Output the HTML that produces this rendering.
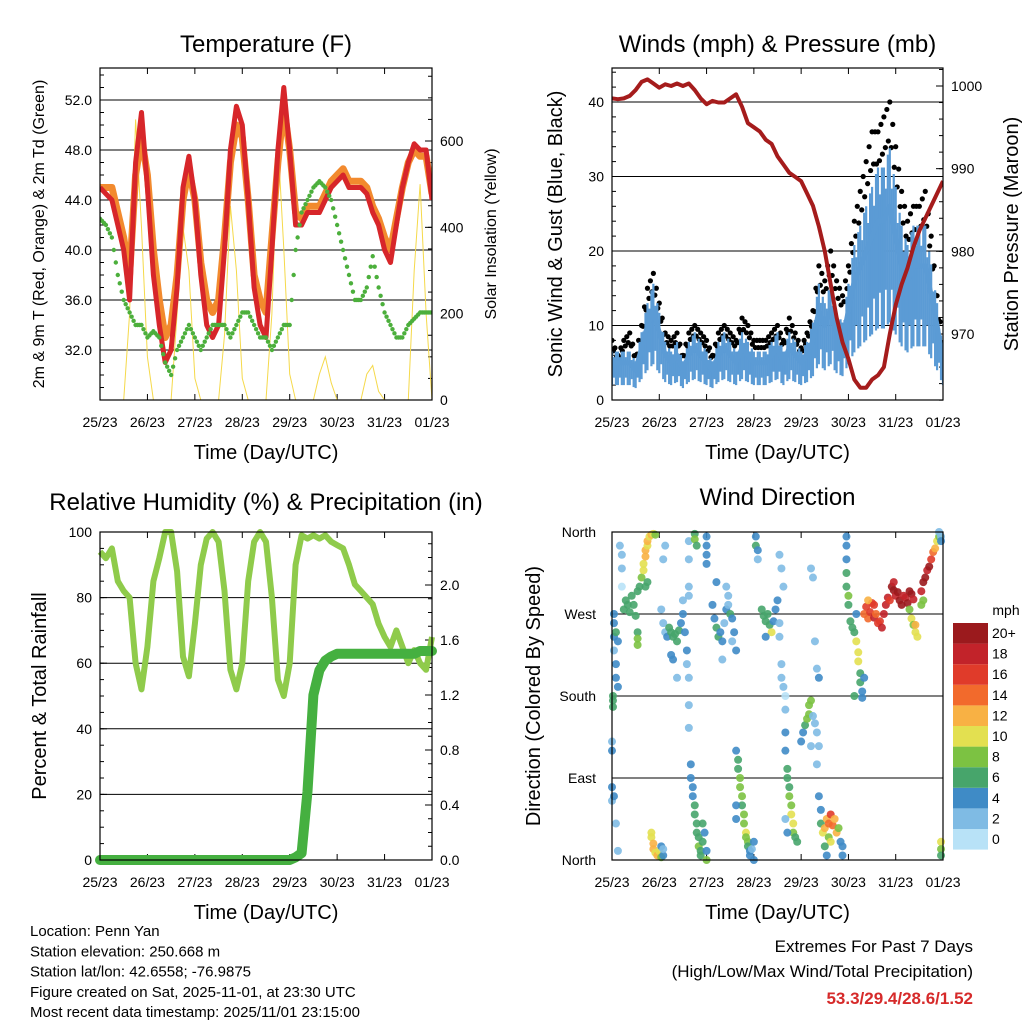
<!DOCTYPE html>
<html><head><meta charset="utf-8">
<style>
html,body{margin:0;padding:0;background:#fff;}
svg{display:block;font-family:"Liberation Sans",Arial,sans-serif;}
</style></head>
<body>
<svg id="chart" width="1024" height="1024" viewBox="0 0 1024 1024" xmlns="http://www.w3.org/2000/svg"></svg>
<script>
// ---------- DATA (3-hourly samples from 25/23 UTC) ----------
const dayLabels = ["25/23","26/23","27/23","28/23","29/23","30/23","31/23","01/23"];
const tempRed = [45,44.5,44,42,40,36,47,51,45,38,34,31,32,37,45,47.5,44,38,34,33,34,40,48,51.5,50,44,37,34,33,40,48,53,48,42,42,43,43,43,44,45,45.5,46,45,45,45,44.5,43,42,40,39,42,45,47,48.5,48,48,44];
const tempOrange = [45,45,45,43,41,38,46,49,46,40,36,33,34,38,44,46.5,44,39,36,35,36,41,47,50,49,44,38,36,35,41,47,51.5,48,43,42.5,43.5,43.5,43.5,44.5,45.5,46,46.5,45.5,45.5,45.5,45,43.5,42.5,41,40,42.5,45,47,48,47.5,47.5,44.5];
const dewGreen = [42.5,42,41,38,36,35,34,34,33,33.5,33,31,30,32,33,34,33,32,33,34,34,34,33,34,35,35,34,33,33,32,33,34,34,40,43,44,45,45.5,45,44,42,40,38,36,36,37,39.5,37,35,34,33,33,34,34.5,35,35,35];
const solar = [0,0,0,0,0,200,650,400,100,0,0,0,0,200,400,300,50,0,0,0,0,150,450,300,50,0,0,0,0,200,600,350,60,0,0,0,0,60,100,40,0,0,0,0,0,60,80,20,0,0,0,0,0,300,500,200,0];
const windSpeed = [5,5,5,5,4,7,10,12,9,6,5,6,4,6,7,6,5,4,6,7,6,5,7,6,5,5,5,6,7,5,7,6,5,6,8,12,10,12,9,8,12,16,18,20,22,24,24,26,22,18,16,18,18,18,14,10,5];
const windGust = [8,6,8,9,6,10,15,17,13,9,8,9,6,9,10,9,8,6,9,10,9,8,11,10,8,8,8,9,10,8,11,9,7,9,12,18,16,20,16,14,18,24,28,32,36,36,38,40,34,28,24,26,26,28,22,14,7];
const pressure = [998.5,998.4,998.5,998.8,999.5,1000.5,1000.8,1000.3,999.8,1000.2,1000,1000.3,1000,1000.3,999.5,998.5,997.8,998.2,998,998,998.5,999,997.5,995.5,995,994.5,993.5,993,991.5,990.5,989.5,989,988.5,987,985.5,983,980,976,972,969,967,964.5,963.5,963.5,964.5,965,966,970,973.5,976,978,980.5,982.5,984,985.5,987,988.5];
const relHum = [94,92,95,85,82,80,60,52,65,85,92,100,100,88,62,56,72,90,98,100,97,82,58,52,60,85,97,100,97,80,55,50,60,90,99,98,99,98,99,97,96,95,90,84,82,80,78,72,68,65,70,65,60,64,60,58,68];
const precip = [0,0,0,0,0,0,0,0,0,0,0,0,0,0,0,0,0,0,0,0,0,0,0,0,0,0,0,0,0,0,0,0,0,0.02,0.05,0.5,1.2,1.38,1.45,1.48,1.5,1.5,1.5,1.5,1.5,1.5,1.5,1.5,1.5,1.5,1.5,1.5,1.5,1.5,1.52,1.52,1.52];
// wind direction points: [hour, direction deg, speed mph]
const dirPoints = [
[1,260,4],[1,245,4],[1,230,3],[2,215,4],[2,200,5],[3,190,4],[2,250,6],[3,240,5],[1,270,4],[0.5,175,7],[0.5,168,6],[0.5,180,6],[0,130,3],[0,120,4],[0,80,4],[0,65,3],[1,70,4],[2,40,2],[3,10,2],
[6,275,7],[7,285,6],[8,280,7],[9,272,6],[10,290,7],[11,280,6],[12,268,7],[13,295,6],[14,300,7],[13,250,7],[13,243,8],[13,236,9],
[15,310,9],[16,318,10],[16,325,11],[17,333,12],[17,340,13],[18,345,10],[18,350,12],[19,355,11],[20,357,12],[21,358,10],[22,357,9],[17,300,7],[18,305,7],
[5,335,2],[5,320,2],[5,300,1],[4,345,3],
[20,30,11],[20,25,10],[21,18,13],[21,12,12],[22,8,11],[23,5,12],[24,10,10],[25,3,9],[25,15,5],[26,5,4],[26,12,3],
[25,275,3],[26,260,2],[27,250,3],[28,245,4],[29,255,6],[30,250,6],[31,245,7],[32,248,7],[33,240,7],[34,252,6],[35,260,4],[36,270,4],[37,250,4],[38,230,4],[38,215,3],[39,290,3],[36,285,2],[30,225,5],[31,220,5],[26,330,2],[27,345,2],[33,200,2],
[39,350,2],[39,330,2],[39,300,2],[39,200,2],[39,170,2],[39,145,2],
[40,105,4],[40,90,4],[41,80,5],[41,70,4],[42,60,6],[42,50,6],[43,40,7],[43,30,6],[44,25,7],[44,15,8],[45,10,7],[45,5,6],[46,20,7],[46,40,6],[47,30,5],[48,10,4],[48,0,8],
[42,358,6],[42,352,8],[43,345,7],[48,355,4],[48,345,4],[48,335,4],[48,325,4],
[51,280,4],[52,265,5],[53,255,6],[54,245,6],[55,250,4],[56,240,4],[57,260,3],[58,275,4],[59,280,3],[60,270,7],[61,265,4],[62,250,4],[63,230,4],[58,300,2],[59,290,2],[61,240,2],[56,220,3],[53,305,4],
[63,120,5],[64,110,6],[64,100,7],[65,90,8],[65,80,8],[66,70,8],[66,60,7],[67,50,8],[67,40,9],[68,30,10],[68,25,8],[69,20,9],[69,15,7],[70,10,5],[70,5,4],[71,12,3],[63,60,4],[63,45,5],[72,20,4],[72,0,5],
[73,355,4],[73,345,6],[74,340,4],[74,330,2],
[76,275,6],[77,268,6],[78,262,6],[79,270,7],[80,258,7],[81,250,10],[82,262,5],[83,275,4],[84,285,4],[85,260,3],[85,245,3],[78,245,4],
[85,335,2],[86,320,2],[87,300,2],[86,215,2],[86,200,2],[87,190,2],[88,180,1],[88,165,2],
[88,140,4],[88,120,4],[89,100,6],[89,90,7],[90,80,7],[90,70,8],[91,60,8],[91,50,10],[92,40,10],[92,30,9],[93,25,7],[94,20,6],[89,30,4],[88,45,2],
[96,130,4],[97,140,5],[98,148,7],[99,155,8],[100,160,9],[100,170,9],[101,175,8],[102,158,3],[103,150,2],[104,140,2],[105,125,2],[104,105,2],[101,125,3],
[101,320,2],[102,310,2],[103,240,2],[104,210,2],[105,200,4],
[105,70,4],[106,55,4],[106,40,6],[107,30,10],[108,35,12],[109,45,13],[110,40,14],[111,50,16],[112,38,15],[113,45,12],[114,30,13],[110,25,8],[111,20,10],[115,35,8],[116,20,4],[117,15,4],[117,5,4],[109,5,4],[108,15,6],
[119,355,4],[119,345,4],[119,330,4],[119,315,6],[119,300,6],[120,290,8],[120,280,6],
[121,262,6],[122,255,6],[123,250,6],[124,240,10],[125,228,10],[125,218,10],[126,205,6],[126,195,6],[127,185,4],[127,178,4],[128,200,4],[123,180,6],[124,270,4],
[128,270,15],[129,278,17],[130,265,14],[131,272,16],[132,282,16],[133,266,18],[134,270,14],[135,260,17],[136,262,16],[137,255,18],[138,270,18],[139,280,18],[140,288,19],[141,285,17],[130,285,12],[133,280,16],
[142,300,20],[143,296,20],[144,290,18],[145,294,20],[146,285,21],[147,280,20],[148,290,19],[149,288,18],[150,282,20],[151,295,20],[152,292,20],[153,286,18],[143,305,18],
[152,265,10],[153,258,9],[154,250,11],[155,245,10],[154,258,12],[151,275,8],
[157,295,18],[158,305,20],[159,310,20],[160,318,18],[161,322,20],[162,330,16],[163,338,14],[164,342,12],[165,350,10],[166,355,8],[166,360,3],[158,285,8],[157,280,8],
[167,355,3],[167,350,4],[167,20,10],[167,12,8],[167,5,6]];
const speedLabels = ["0","2","4","6","8","10","12","14","16","18","20+"];
const speedColors = ["#b8e2f7","#7fbbe4","#3f8bc6","#47a56b","#7cc242","#e3e050","#f8b144","#f26a2c","#e03b2a","#c2232a","#9b1a1d"];

// ---------- helpers ----------
const NS="http://www.w3.org/2000/svg";
const svg=document.getElementById('chart');
function mk(tag,attrs,parent){const e=document.createElementNS(NS,tag);for(const k in attrs)e.setAttribute(k,attrs[k]);(parent||svg).appendChild(e);return e;}
function txt(s,x,y,size,anchor,parent,extra){const t=mk('text',Object.assign({x:x,y:y,'font-size':size,'text-anchor':anchor||'middle',fill:'#000'},extra||{}),parent);t.textContent=s;return t;}
function lin(d0,d1,p0,p1){return v=>p0+(v-d0)*(p1-p0)/(d1-d0);}

function panelFrame(g,L,R,T,B,title,ttlY,xlabY){
  txt(title,(L+R)/2,ttlY,24,'middle',g);
  const xs=lin(0,7,L,R);
  for(let d=0;d<=7;d++){const x=xs(d);
    mk('line',{x1:x,y1:B,x2:x,y2:B-6,stroke:'#000','stroke-width':1},g);
    mk('line',{x1:x,y1:T,x2:x,y2:T+6,stroke:'#000','stroke-width':1},g);
    const tl=txt(dayLabels[d],x,B+27,14,'middle',g);
    
    
  }
  const xl=txt('Time (Day/UTC)',(L+R)/2,xlabY,20,'middle',g);
  
  
  return xs;
}
function border(g,L,R,T,B){mk('rect',{x:L,y:T,width:R-L,height:B-T,fill:'none',stroke:'#000','stroke-width':1.2},g);}
function yTicks(g,scale,vals,side,x,fmt,major,grid,L,R){
  vals.forEach(v=>{const y=scale(v);
    const len=major?7:4; const dir=side==='left'?1:-1;
    mk('line',{x1:x,y1:y,x2:x+dir*len,y2:y,stroke:'#000','stroke-width':1},g);
    if(major){
      if(grid) mk('line',{x1:L,y1:y,x2:R,y2:y,stroke:'#000','stroke-width':1},g);
      const t=txt(fmt(v),side==='left'?x-8:x+8,y+5,14,side==='left'?'end':'start',g);
      
      
    }
  });
}
function vlabel(g,s,x,y,size){const t=txt(s,x,y,size,'middle',g,{transform:`rotate(-90 ${x} ${y})`});return t;}
function pathFrom(arr,xs,ys){return arr.map((v,i)=>(i?'L':'M')+xs(i).toFixed(1)+','+ys(v).toFixed(1)).join('');}

// ---------- Panel 1: Temperature ----------
(function(){
  const g=mk('g',{});
  
  
  const L=100,R=432,T=68,B=400;
  panelFrame(g,L,R,T,B,'Temperature (F)',52,459);
  const xi=lin(0,56,L,R);
  const yT=lin(28,54.56,B,T);
  const yS=lin(0,600,B,141);
  const minor=[];for(let v=29;v<=54;v++)minor.push(v);
  yTicks(g,yT,minor,'left',L,v=>v,false,false,L,R);
  yTicks(g,yT,[32,36,40,44,48,52],'left',L,v=>v.toFixed(1),true,true,L,R);
  const sm=[];for(let v=50;v<=750;v+=50)sm.push(v);
  yTicks(g,yS,sm,'right',R,v=>v,false,false,L,R);
  yTicks(g,yS,[0,200,400,600],'right',R,v=>v,true,false,L,R);
  const cl=mk('clipPath',{id:'c1'},g);mk('rect',{x:L,y:T,width:R-L,height:B-T},cl);
  const d=mk('g',{'clip-path':'url(#c1)'},g);
  const s=mk('path',{d:pathFrom(solar,xi,yS),fill:'none',stroke:'#f5d94a','stroke-width':1},d);
  
  
  const o=mk('path',{d:pathFrom(tempOrange,xi,yT),fill:'none',stroke:'#f28a2e','stroke-width':7,'stroke-linejoin':'round'},d);
  
  
  const r=mk('path',{d:pathFrom(tempRed,xi,yT),fill:'none',stroke:'#d7262a','stroke-width':5,'stroke-linejoin':'round'},d);
  
  
  dewGreen.forEach((v,i)=>{
    const c=mk('circle',{cx:xi(i),cy:yT(v),r:2.2,fill:'#4caf3c'},d);
    
    
    if(i<56){for(let k=1;k<3;k++){const f=k/3;
      const c2=mk('circle',{cx:xi(i)+(xi(i+1)-xi(i))*f,cy:yT(v)+(yT(dewGreen[i+1])-yT(v))*f,r:2.2,fill:'#4caf3c'},d);
      
      }}
  });
  border(g,L,R,T,B);
  vlabel(g,'2m & 9m T (Red, Orange) & 2m Td (Green)',44,234,16);
  vlabel(g,'Solar Insolation (Yellow)',496,234,16);
})();

// ---------- Panel 2: Winds ----------
(function(){
  const g=mk('g',{});
  
  
  const L=612,R=943,T=68,B=400;
  panelFrame(g,L,R,T,B,'Winds (mph) & Pressure (mb)',52,459);
  const xi=lin(0,56,L,R);
  const yW=lin(0,10,B,325.5);
  const yP=lin(970,1000,334,86);
  const wm=[];for(let v=2;v<=44;v+=2)wm.push(v);
  yTicks(g,yW,wm,'left',L,v=>v,false,false,L,R);
  yTicks(g,yW,[0,10,20,30,40],'left',L,v=>v,true,true,L,R);
  const pm=[];for(let v=962;v<=1002;v+=2)pm.push(v);
  yTicks(g,yP,pm,'right',R,v=>v,false,false,L,R);
  yTicks(g,yP,[970,980,990,1000],'right',R,v=>v,true,false,L,R);
  const cl=mk('clipPath',{id:'c2'},g);mk('rect',{x:L,y:T,width:R-L,height:B-T},cl);
  const d=mk('g',{'clip-path':'url(#c2)'},g);
  windGust.forEach((v,i)=>{
    const nxt=i<56?windGust[i+1]:v;
    for(let k=0;k<4;k++){const f=k/4;const gv=v+(nxt-v)*f;
      const c=mk('circle',{cx:xi(i+f),cy:yW(gv*(k%2?0.88:1)),r:2.6,fill:'#000'},d);
      
      }
  });
  windSpeed.forEach((v,i)=>{
    const nxt=i<56?windSpeed[i+1]:v;
    for(let k=0;k<3;k++){const f=k/3;const wv=v+(nxt-v)*f;
      const b=mk('line',{x1:xi(i+f),x2:xi(i+f),y1:yW(wv*(k===1?0.6:0.4)),y2:yW(wv*(k===1?1.15:1.3)),stroke:'#5b9bd5','stroke-width':2.2},d);
      
      }
  });
  const w=mk('path',{d:pathFrom(windSpeed,xi,yW),fill:'none',stroke:'#5b9bd5','stroke-width':5,'stroke-linejoin':'round'},d);
  
  
  const p=mk('path',{d:pathFrom(pressure,xi,yP),fill:'none',stroke:'#a51c1c','stroke-width':4,'stroke-linejoin':'round'},d);
  
  
  border(g,L,R,T,B);
  vlabel(g,'Sonic Wind & Gust (Blue, Black)',562,234,20);
  vlabel(g,'Station Pressure (Maroon)',1018,234,20);
})();

// ---------- Panel 3: RH & Precip ----------
(function(){
  const g=mk('g',{});
  
  
  const L=100,R=432,T=532,B=860;
  panelFrame(g,L,R,T,B,'Relative Humidity (%) & Precipitation (in)',510,919);
  const xi=lin(0,56,L,R);
  const yH=lin(0,100,B,T);
  const yR=lin(0,2.0,B,585);
  const hm=[];for(let v=5;v<=100;v+=5)hm.push(v);
  yTicks(g,yH,hm,'left',L,v=>v,false,false,L,R);
  yTicks(g,yH,[0,20,40,60,80,100],'left',L,v=>v,true,true,L,R);
  const rm=[];for(let v=0.1;v<2.35;v+=0.1)rm.push(+v.toFixed(1));
  yTicks(g,yR,rm,'right',R,v=>v,false,false,L,R);
  yTicks(g,yR,[0,0.4,0.8,1.2,1.6,2.0],'right',R,v=>v.toFixed(1),true,false,L,R);
  const h=mk('path',{d:pathFrom(relHum,xi,yH),fill:'none',stroke:'#8fcb4b','stroke-width':6,'stroke-linejoin':'round'},g);
  
  
  const p=mk('path',{d:pathFrom(precip,xi,yR),fill:'none',stroke:'#45b040','stroke-width':10,'stroke-linecap':'round','stroke-linejoin':'round'},g);
  
  
  border(g,L,R,T,B);
  vlabel(g,'Percent & Total Rainfall',46,696,20);
})();

// ---------- Panel 4: Wind Direction ----------
(function(){
  const g=mk('g',{});
  
  
  const L=612,R=943,T=532,B=860;
  panelFrame(g,L,R,T,B,'Wind Direction',505,919);
  const xh=lin(0,168,L,R);
  const yD=lin(0,360,B,T);
  const names=['North','East','South','West','North'];
  [0,90,180,270,360].forEach((v,i)=>{const y=yD(v);
    mk('line',{x1:L,y1:y,x2:R,y2:y,stroke:'#000','stroke-width':1},g);
    const t=txt(names[i],L-16,y+5,14,'end',g);
    
    
  });
  dirPoints.forEach(p=>{
    const bin=Math.min(10,Math.floor(p[2]/2));
    const c=mk('circle',{cx:xh(p[0]),cy:yD(p[1]),r:4,fill:speedColors[bin],'fill-opacity':0.9},g);
    
    
  });
  border(g,L,R,T,B);
  vlabel(g,'Direction (Colored By Speed)',540,696,20);
  const cb=mk('g',{},svg);
  
  
  txt('mph',1006,615,14,'middle',cb);
  for(let i=0;i<11;i++){const y=623+(10-i)*20.6;
    mk('rect',{x:953,y:y,width:35,height:20.6,fill:speedColors[i]},cb);
    const t=txt(speedLabels[i],992,y+15,14,'start',cb);
    
    
  }
})();

// ---------- Footer ----------
(function(){
  const g=mk('g',{});
  
  
  ["Location: Penn Yan","Station elevation: 250.668 m","Station lat/lon: 42.6558; -76.9875","Figure created on Sat, 2025-11-01, at 23:30 UTC","Most recent data timestamp: 2025/11/01 23:15:00"].forEach((s,i)=>txt(s,30,936+i*20.3,15,'start',g));
  const e=mk('g',{});
  
  
  txt('Extremes For Past 7 Days',973,952,17,'end',e);
  txt('(High/Low/Max Wind/Total Precipitation)',973,977,17,'end',e);
  txt('53.3/29.4/28.6/1.52',973,1004,17,'end',e,{fill:'#d62a2a','font-weight':'bold'});
})();
</script>
</body></html>
